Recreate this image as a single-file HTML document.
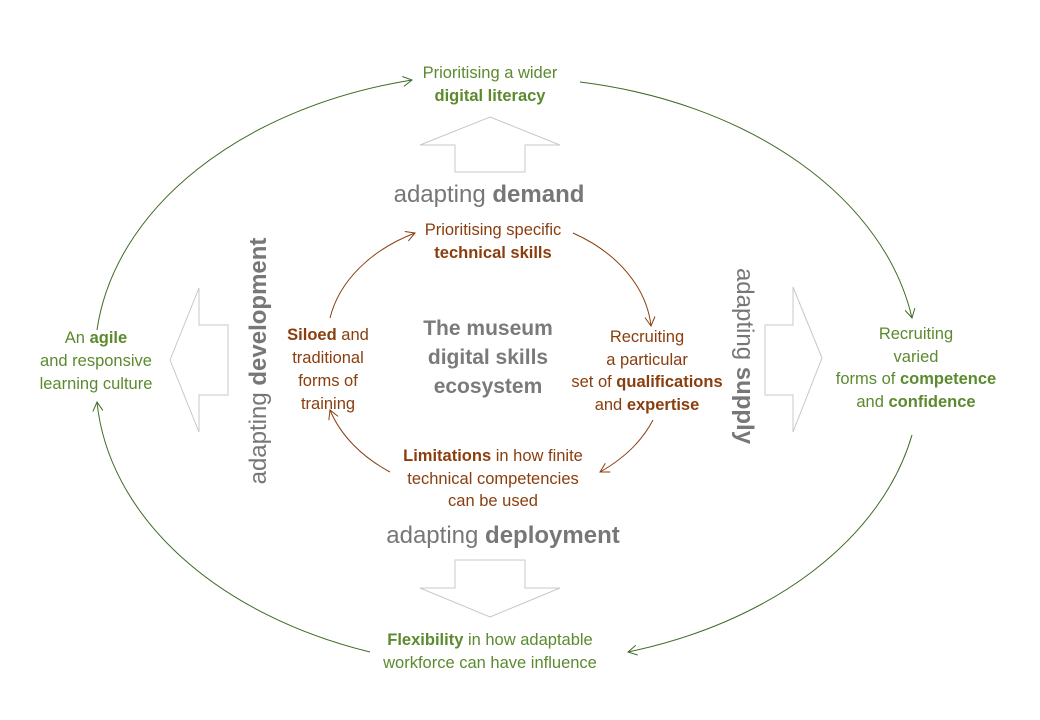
<!DOCTYPE html>
<html><head><meta charset="utf-8"><style>
html,body{margin:0;padding:0;background:#fff;}
svg{display:block;}
text{font-family:"Liberation Sans",sans-serif;}
.g{fill:#5b8a2f;font-size:16.5px;}
.b{fill:#8a3e0e;font-size:16.5px;}
.t{fill:#777;font-size:24px;}
.c{fill:#7a7a7a;font-size:21px;font-weight:bold;}
</style></head><body>
<svg width="1040" height="720" viewBox="0 0 1040 720">
<defs>
<marker id="ag" markerWidth="12" markerHeight="12" refX="10" refY="6" orient="auto" markerUnits="userSpaceOnUse">
<polyline points="1,1 10,6 1,11" fill="none" stroke="#3e6b25" stroke-width="1"/></marker>
<marker id="ab" markerWidth="12" markerHeight="12" refX="10" refY="6" orient="auto" markerUnits="userSpaceOnUse">
<polyline points="1,1 10,6 1,11" fill="none" stroke="#8a3e0e" stroke-width="1"/></marker>
</defs>
<g fill="none" stroke="#3e6b25" stroke-width="1">
<path d="M97,330 A408,286 0 0 1 412,80" marker-end="url(#ag)"/>
<path d="M580,82 A408,286 0 0 1 912,318" marker-end="url(#ag)"/>
<path d="M912,435 A408,286 0 0 1 628,652" marker-end="url(#ag)"/>
<path d="M370,652 A408,286 0 0 1 97,402" marker-end="url(#ag)"/>
</g>
<g fill="none" stroke="#8a3e0e" stroke-width="1">
<path d="M330,318 A162,120 0 0 1 415,233" marker-end="url(#ab)"/>
<path d="M573,233 A162,120 0 0 1 651,326" marker-end="url(#ab)"/>
<path d="M653,420 A162,120 0 0 1 600,472" marker-end="url(#ab)"/>
<path d="M390,472 A162,120 0 0 1 330,410" marker-end="url(#ab)"/>
</g>
<g fill="#fff" stroke="#c8c8c8" stroke-width="1">
<polygon points="490,117 560,145 525,145 525,172 455,172 455,145 420,145"/>
<polygon points="490,617 560,588 525,588 525,560 455,560 455,588 420,588"/>
<polygon points="170,360 199,288 199,325 228,325 228,395 199,395 199,432"/>
<polygon points="822,358 793,287 793,325 765,325 765,395 793,395 793,432"/>
</g>
<text class="g" text-anchor="middle" x="490" y="78">Prioritising a wider</text>
<text class="g" text-anchor="middle" x="490" y="101" font-weight="bold">digital literacy</text>
<text class="t" text-anchor="middle" x="489" y="202">adapting <tspan font-weight="bold">demand</tspan></text>
<text class="t" text-anchor="middle" x="503" y="543">adapting <tspan font-weight="bold">deployment</tspan></text>
<text class="t" text-anchor="middle" transform="translate(266,361) rotate(-90)">adapting <tspan font-weight="bold">development</tspan></text>
<text class="t" text-anchor="middle" transform="translate(737,356) rotate(90)">adapting <tspan font-weight="bold">supply</tspan></text>
<text class="b" text-anchor="middle" x="493" y="235">Prioritising specific</text>
<text class="b" text-anchor="middle" x="493" y="258" font-weight="bold">technical skills</text>
<text class="c" text-anchor="middle" x="488" y="335">The museum</text>
<text class="c" text-anchor="middle" x="488" y="364">digital skills</text>
<text class="c" text-anchor="middle" x="488" y="393">ecosystem</text>
<text class="b" text-anchor="middle" x="328" y="340"><tspan font-weight="bold">Siloed</tspan> and</text>
<text class="b" text-anchor="middle" x="328" y="363">traditional</text>
<text class="b" text-anchor="middle" x="328" y="386">forms of</text>
<text class="b" text-anchor="middle" x="328" y="409">training</text>
<text class="b" text-anchor="middle" x="647" y="342">Recruiting</text>
<text class="b" text-anchor="middle" x="647" y="365">a particular</text>
<text class="b" text-anchor="middle" x="647" y="387">set of <tspan font-weight="bold">qualifications</tspan></text>
<text class="b" text-anchor="middle" x="647" y="410">and <tspan font-weight="bold">expertise</tspan></text>
<text class="b" text-anchor="middle" x="493" y="461"><tspan font-weight="bold">Limitations</tspan> in how finite</text>
<text class="b" text-anchor="middle" x="493" y="484">technical competencies</text>
<text class="b" text-anchor="middle" x="493" y="506">can be used</text>
<text class="g" text-anchor="middle" x="96" y="343">An <tspan font-weight="bold">agile</tspan></text>
<text class="g" text-anchor="middle" x="96" y="366">and responsive</text>
<text class="g" text-anchor="middle" x="96" y="389">learning culture</text>
<text class="g" text-anchor="middle" x="916" y="339">Recruiting</text>
<text class="g" text-anchor="middle" x="916" y="362">varied</text>
<text class="g" text-anchor="middle" x="916" y="384">forms of <tspan font-weight="bold">competence</tspan></text>
<text class="g" text-anchor="middle" x="916" y="407">and <tspan font-weight="bold">confidence</tspan></text>
<text class="g" text-anchor="middle" x="490" y="645"><tspan font-weight="bold">Flexibility</tspan> in how adaptable</text>
<text class="g" text-anchor="middle" x="490" y="668">workforce can have influence</text>
</svg>
</body></html>
